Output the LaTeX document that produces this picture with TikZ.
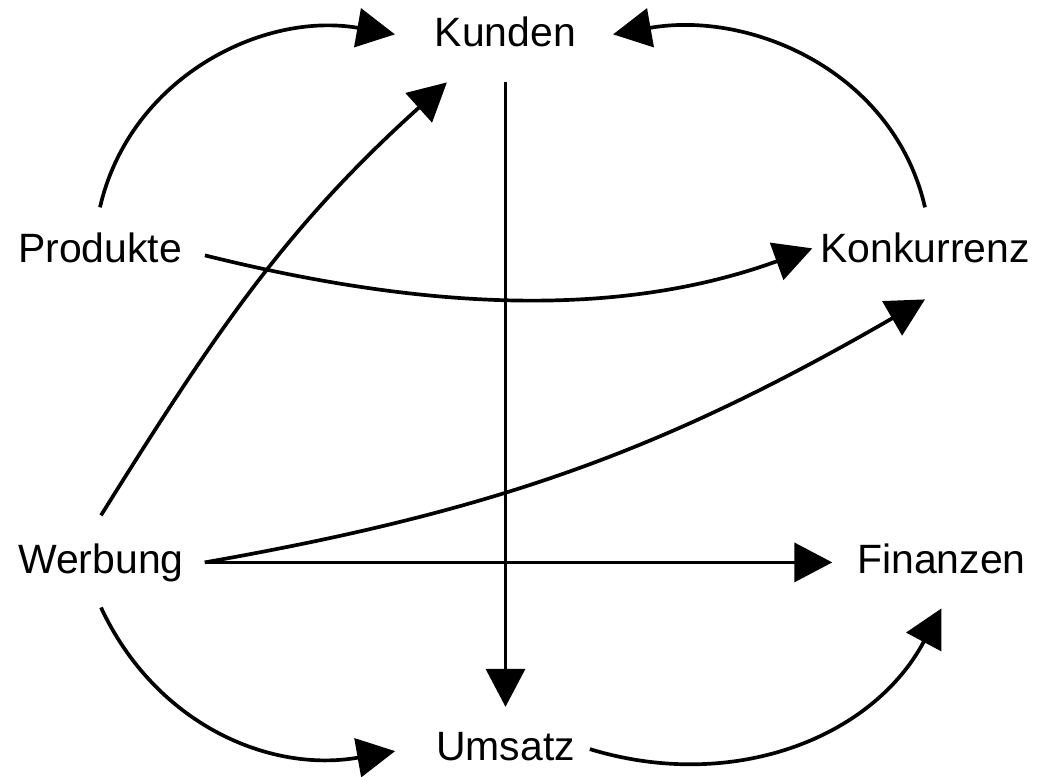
\documentclass[tikz,border=0pt]{standalone}
\usepackage{fontspec}
\setmainfont{Liberation Sans}
\usetikzlibrary{arrows.meta}

\begin{document}
\begin{tikzpicture}[
    begriff/.style={inner sep=0pt,outer sep=0pt,anchor=base,font=\fontsize{23.3}{28}\selectfont},
    pfeil/.style={line width=2.1pt,-{Triangle[length=0.76cm,width=0.78cm]}}]
        \useasboundingbox (0,0) rectangle (20.78,-15.54);

        \node[begriff] (kunden) at (10.11,-0.94) {Kunden};
        \node[begriff] (produkte) at (2.00,-5.26) {Produkte};
        \node[begriff] (konkurrenz) at (18.50,-5.26) {Konkurrenz};
        \node[begriff] (werbung) at (2.02,-11.46) {Werbung};
        \node[begriff] (finanzen) at (18.83,-11.46) {Finanzen};
        \node[begriff] (umsatz) at (10.11,-15.20) {Umsatz};

        % oben
        \draw[pfeil] ([yshift=0.52cm]produkte.north) to[out=77,in=170] ([xshift=-0.8cm,yshift=-0.04cm]kunden.west);
        \draw[pfeil] ([yshift=0.52cm]konkurrenz.north) to[out=103,in=10] ([xshift=0.74cm,yshift=-0.04cm]kunden.east);
        \draw[pfeil] ([yshift=0.56cm]werbung.north) to[out=58,in=222] ([xshift=0.24cm,yshift=-0.7cm]kunden.south west);
        \draw[pfeil] ([yshift=-0.7cm]kunden.south) -- ([yshift=0.5cm]umsatz.north);

        % quer
        \draw[pfeil] ([xshift=0.46cm,yshift=-0.14cm]produkte.east) to[out=-14,in=200,looseness=0.9] ([xshift=-0.16cm]konkurrenz.west);
        \draw[pfeil] ([xshift=0.42cm]werbung.east) to[out=10,in=210] ([yshift=-0.72cm]konkurrenz.south);
        \draw[pfeil,shorten >=0.5cm] ([xshift=0.42cm]werbung.east) -- (finanzen.west |- werbung.east);

        % unten
        \draw[pfeil] ([yshift=-0.52cm]werbung.south) to[out=-65,in=190] ([xshift=-0.82cm,yshift=-0.1cm]umsatz.west);
        \draw[pfeil] ([xshift=0.3cm,yshift=-0.06cm]umsatz.east) to[out=-17,in=242] ([yshift=-0.7cm]finanzen.south);
\end{tikzpicture}
\end{document}
